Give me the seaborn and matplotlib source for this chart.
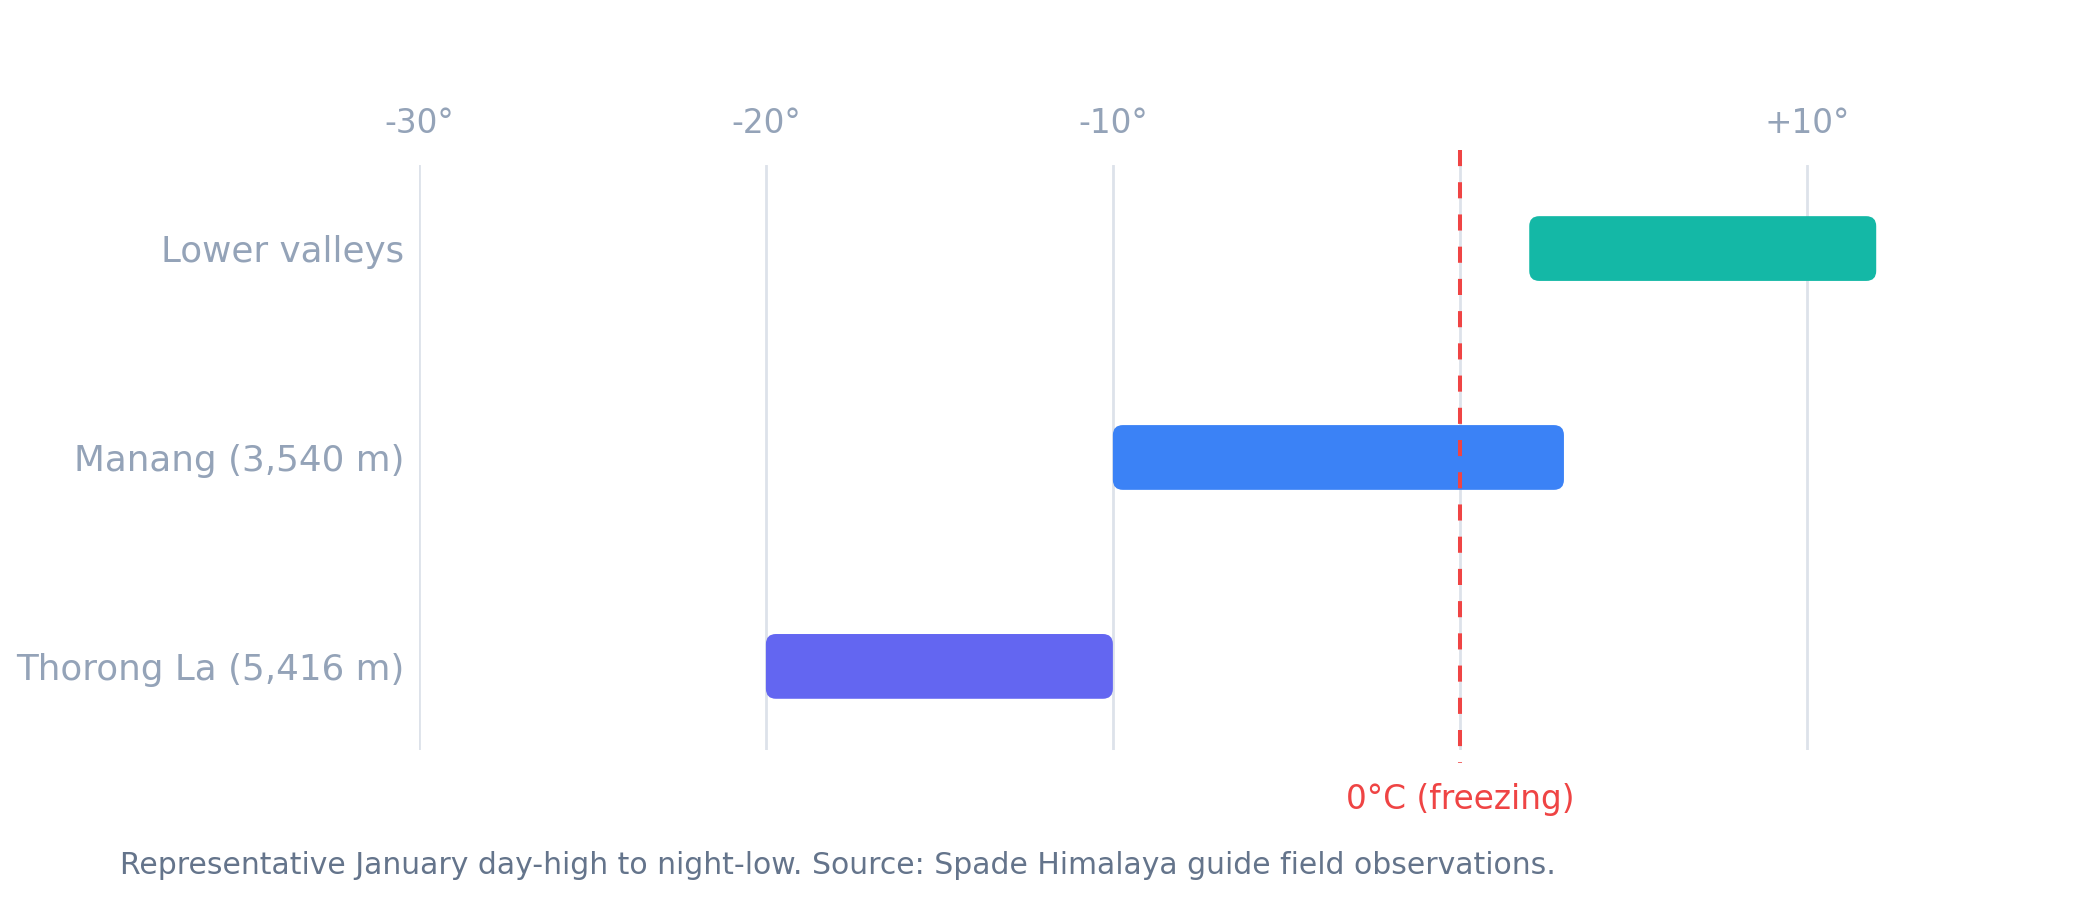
import matplotlib
matplotlib.use("Agg")
import matplotlib.pyplot as plt
import seaborn as sns
import pandas as pd
from matplotlib.patches import FancyBboxPatch

# ---- data ----
regions = ["Lower valleys", "Manang (3,540 m)", "Thorong La (5,416 m)"]
low_temps = [2, -10, -20]
high_temps = [12, 3, -10]
bar_colors = ["#14b8a6", "#3b82f6", "#6366f1"]
tick_values = [-30, -20, -10, 0, 10]
tick_labels = ["-30°", "-20°", "-10°", "", "+10°"]
freeze_value = 0
freeze_label = "0°C (freezing)"
caption = "Representative January day-high to night-low. Source: Spade Himalaya guide field observations."

sns.set_theme(style="white")
plt.rcParams["font.family"] = ["DejaVu Sans"]

fig = plt.figure(figsize=(10.5, 4.5), dpi=200)
ax = fig.add_axes([0.1995, 0.1667, 0.7435, 0.65])

df = pd.DataFrame({"region": regions,
                   "span": [h - l for h, l in zip(high_temps, low_temps)],
                   "low": low_temps})

sns.barplot(data=df, y="region", x="span", hue="region", palette=bar_colors,
            order=regions, width=0.31, legend=False, ax=ax, orient="h",
            saturation=1)

ax.set_xlim(-30, 15)
ax.set_ylim(len(regions) - 1 + 0.4, -0.4)

# convert bars to rounded floating bars
fig.canvas.draw()
x_px_per_unit = ax.transData.transform((1, 0))[0] - ax.transData.transform((0, 0))[0]
y_px_per_unit = abs(ax.transData.transform((0, 1))[1] - ax.transData.transform((0, 0))[1])
rounding_x = 10 / x_px_per_unit
aspect = x_px_per_unit / y_px_per_unit

patches = list(ax.patches)
for p in patches:
    yc = p.get_y() + p.get_height() / 2
    idx = int(round(yc))
    lo = low_temps[idx]
    w = p.get_width()
    h = p.get_height()
    col = p.get_facecolor()
    p.remove()
    fb = FancyBboxPatch((lo, p.get_y()), w, h,
                        boxstyle=f"round,pad=0,rounding_size={rounding_x}",
                        mutation_aspect=aspect, facecolor=col, edgecolor="none",
                        zorder=3)
    ax.add_patch(fb)

# grid lines
for v in tick_values:
    ax.axvline(v, color="#dde2ea", lw=1.0, zorder=1)

# freezing line (drawn top to bottom so the dash pattern starts at the top)
ax.plot([freeze_value, freeze_value], [1.025, -0.023], transform=ax.get_xaxis_transform(),
        color="#ef4444", lw=1.45, linestyle=(0, (4, 4)), zorder=4, clip_on=False)
ax.text(freeze_value, -0.085, freeze_label, transform=ax.get_xaxis_transform(),
        ha="center", va="center", color="#ef4444", fontsize=11.8)

ax.set_xticks(tick_values)
ax.set_xticklabels(tick_labels)
ax.xaxis.tick_top()
ax.tick_params(axis="x", length=0, pad=9, labelsize=11.8, colors="#94a3b8")
ax.tick_params(axis="y", length=0, pad=5.2, labelsize=12.9, colors="#94a3b8")
ax.set_xlabel("")
ax.set_ylabel("")
for s in ax.spines.values():
    s.set_visible(False)

fig.text(0.057, 0.038, caption, ha="left", va="center", color="#64748b", fontsize=10.78)

fig.savefig("out.png", dpi=200, facecolor="white")
